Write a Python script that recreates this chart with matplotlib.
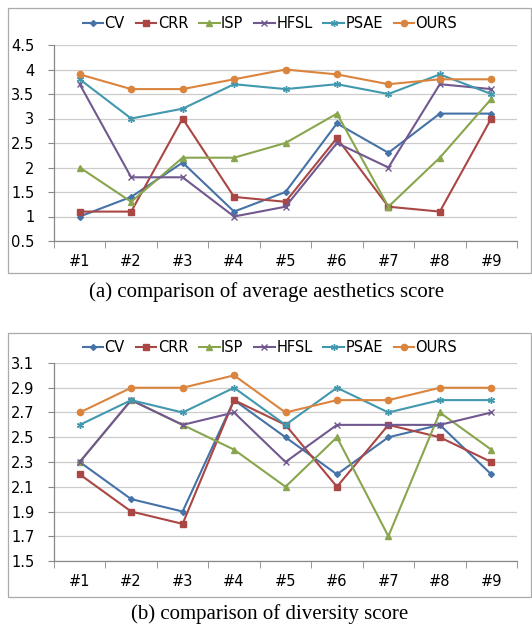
import matplotlib
matplotlib.use("Agg")
import matplotlib.pyplot as plt
from matplotlib.patches import Rectangle

# Data
labels = ["#1", "#2", "#3", "#4", "#5", "#6", "#7", "#8", "#9"]
methods = ["CV", "CRR", "ISP", "HFSL", "PSAE", "OURS"]

aes_cv = [1.0, 1.4, 2.1, 1.1, 1.5, 2.9, 2.3, 3.1, 3.1]
aes_crr = [1.1, 1.1, 3.0, 1.4, 1.3, 2.6, 1.2, 1.1, 3.0]
aes_isp = [2.0, 1.3, 2.2, 2.2, 2.5, 3.1, 1.2, 2.2, 3.4]
aes_hfsl = [3.7, 1.8, 1.8, 1.0, 1.2, 2.5, 2.0, 3.7, 3.6]
aes_psae = [3.8, 3.0, 3.2, 3.7, 3.6, 3.7, 3.5, 3.9, 3.5]
aes_ours = [3.9, 3.6, 3.6, 3.8, 4.0, 3.9, 3.7, 3.8, 3.8]

div_cv = [2.3, 2.0, 1.9, 2.8, 2.5, 2.2, 2.5, 2.6, 2.2]
div_crr = [2.2, 1.9, 1.8, 2.8, 2.6, 2.1, 2.6, 2.5, 2.3]
div_isp = [2.3, 2.8, 2.6, 2.4, 2.1, 2.5, 1.7, 2.7, 2.4]
div_hfsl = [2.3, 2.8, 2.6, 2.7, 2.3, 2.6, 2.6, 2.6, 2.7]
div_psae = [2.6, 2.8, 2.7, 2.9, 2.6, 2.9, 2.7, 2.8, 2.8]
div_ours = [2.7, 2.9, 2.9, 3.0, 2.7, 2.8, 2.8, 2.9, 2.9]

aes_ticks = [0.5, 1, 1.5, 2, 2.5, 3, 3.5, 4, 4.5]
aes_ticklabels = ["0.5", "1", "1.5", "2", "2.5", "3", "3.5", "4", "4.5"]
div_ticks = [1.5, 1.7, 1.9, 2.1, 2.3, 2.5, 2.7, 2.9, 3.1]

# Excel-style styles
colors = ["#4572A7", "#AA4643", "#89A54E", "#71588F", "#4198AF", "#DB843D"]
markers = ["D", "s", "^", "x", (6, 2, 0), "o"]
msizes = [3, 4.5, 4.5, 4.5, 5, 4.5]

W, H = 532, 633
fig = plt.figure(figsize=(W / 100, H / 100), dpi=100)


def px_axes(left, top, right, bottom):
    return fig.add_axes([left / W, 1 - bottom / H, (right - left) / W, (bottom - top) / H])


def draw_panel(ax, series, ticks, ticklabels, ymin, ymax, legend_y):
    x = list(range(len(labels)))
    handles = []
    for vals, name, c, m, ms in zip(series, methods, colors, markers, msizes):
        h, = ax.plot(x, vals, color=c, lw=1.5, marker=m, ms=ms,
                     mfc=c, mec=c, mew=1.0, label=name, clip_on=False, zorder=3)
        handles.append(h)
    ax.set_xlim(-0.5, len(labels) - 0.5)
    ax.set_ylim(ymin, ymax)
    ax.set_yticks(ticks)
    ax.set_yticklabels(ticklabels, fontsize=10.5)
    ax.set_xticks(x)
    ax.set_xticklabels(labels, fontsize=10.5)
    ax.set_xticks([i - 0.5 for i in range(len(labels) + 1)], minor=True)
    ax.tick_params(axis="x", which="major", length=0, pad=9)
    ax.tick_params(axis="x", which="minor", length=5, color="#888888", direction="out")
    ax.tick_params(axis="y", length=4, color="#888888", pad=10)
    ax.grid(axis="y", color="#CCCCCC", lw=0.9)
    ax.set_axisbelow(True)
    for s in ["top", "right"]:
        ax.spines[s].set_visible(False)
    for s in ["left", "bottom"]:
        ax.spines[s].set_color("#888888")
        ax.spines[s].set_linewidth(0.9)
    fig.legend(handles=handles, loc="center", bbox_to_anchor=(270 / W, 1 - legend_y / H),
               ncol=6, frameon=False, fontsize=10.5, handlelength=1.4,
               handletextpad=0.1, columnspacing=0.75, borderaxespad=0)


# Panel (a)
fig.patches.append(Rectangle((8 / W, 1 - 273 / H), (W - 9) / W, 265 / H,
                             transform=fig.transFigure, fill=False,
                             ec="#AAAAAA", lw=0.9))
ax1 = px_axes(54, 45, 517, 241)
draw_panel(ax1, [aes_cv, aes_crr, aes_isp, aes_hfsl, aes_psae, aes_ours],
           aes_ticks, aes_ticklabels, 0.5, 4.5, 24)
fig.text(267 / W, 1 - 292 / H, "(a) comparison of average aesthetics score",
         ha="center", va="center", fontsize=15, family="Liberation Serif")

# Panel (b)
fig.patches.append(Rectangle((8 / W, 1 - 597 / H), (W - 9) / W, 264 / H,
                             transform=fig.transFigure, fill=False,
                             ec="#AAAAAA", lw=0.9))
ax2 = px_axes(54, 363, 517, 561)
draw_panel(ax2, [div_cv, div_crr, div_isp, div_hfsl, div_psae, div_ours],
           div_ticks, [f"{t:.1f}" for t in div_ticks], 1.5, 3.1, 348)
fig.text(270 / W, 1 - 614 / H, "(b) comparison of diversity score",
         ha="center", va="center", fontsize=15, family="Liberation Serif")

fig.savefig("out.png", dpi=100)
